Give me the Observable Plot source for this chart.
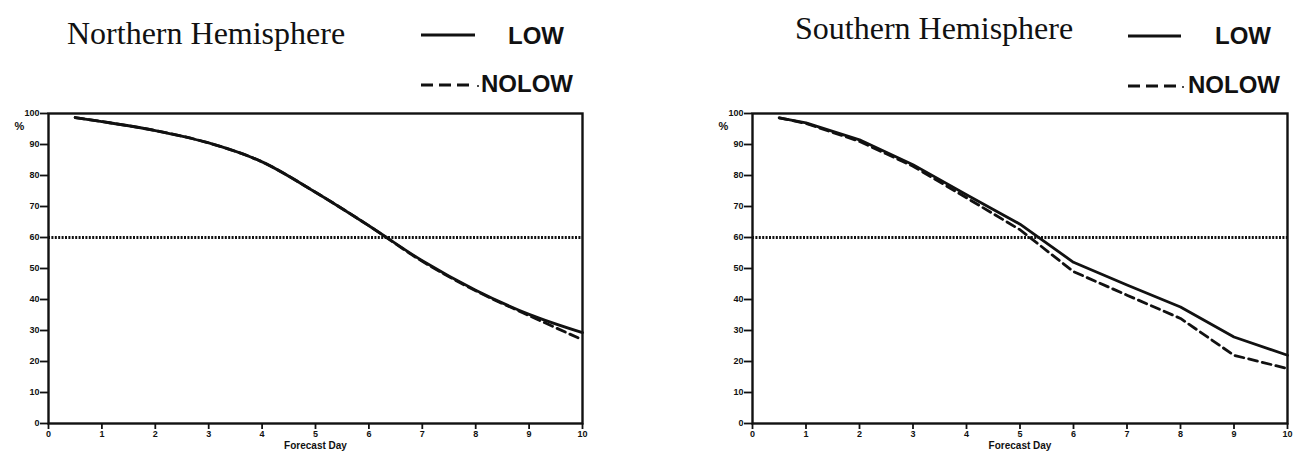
<!DOCTYPE html>
<html>
<head>
<meta charset="utf-8">
<script src="https://cdn.jsdelivr.net/npm/d3@7"></script>
<script src="https://cdn.jsdelivr.net/npm/@observablehq/plot@0.6"></script>
<style>
  body { margin: 0; background: #fff; }
  #page { position: relative; width: 1296px; height: 457px; overflow: hidden; background: #fff; }
  .title { position: absolute; font-family: "Liberation Serif", "Times New Roman", serif; font-size: 32px; color: #111; white-space: nowrap; line-height: 1; }
  .leg { position: absolute; font-family: "Liberation Sans", Arial, sans-serif; font-weight: bold; font-size: 24px; color: #111; white-space: nowrap; line-height: 1; }
  .sample { position: absolute; }
  .chart { position: absolute; top: 100px; }
</style>
</head>
<body>
<div id="page">
  <div class="title" style="left:67px; top:17px;">Northern Hemisphere</div>
  <div class="title" style="left:795px; top:12px;">Southern Hemisphere</div>

  <svg class="sample" style="left:421px; top:30px;" width="56" height="10"><line x1="0" y1="5" x2="54" y2="5" stroke="#111" stroke-width="3"/></svg>
  <div class="leg" style="left:508px; top:24px;">LOW</div>
  <svg class="sample" style="left:421px; top:80px;" width="64" height="10"><line x1="0" y1="5" x2="48" y2="5" stroke="#111" stroke-width="3" stroke-dasharray="12,6"/><circle cx="57" cy="6" r="1" fill="#111"/></svg>
  <div class="leg" style="left:481px; top:72px;">NOLOW</div>

  <svg class="sample" style="left:1128px; top:31px;" width="56" height="10"><line x1="0" y1="5" x2="53" y2="5" stroke="#111" stroke-width="3"/></svg>
  <div class="leg" style="left:1215px; top:24px;">LOW</div>
  <svg class="sample" style="left:1128px; top:81px;" width="64" height="10"><line x1="0" y1="5" x2="48" y2="5" stroke="#111" stroke-width="3" stroke-dasharray="12,6"/><circle cx="55" cy="6" r="1" fill="#111"/></svg>
  <div class="leg" style="left:1188px; top:73px;">NOLOW</div>

  <div id="left" class="chart" style="left:0px;"></div>
  <div id="right" class="chart" style="left:648px;"></div>
</div>
<script>
// ---- data ----
const days = [0.5, 1, 2, 3, 4, 5, 6, 7, 8, 9, 10];
const nhLow   = [98.7, 97.4, 94.5, 90.5, 84.4, 74.6, 63.8, 52.5, 43.0, 35.2, 29.3];
const nhNolow = [98.7, 97.4, 94.5, 90.5, 84.4, 74.6, 63.8, 52.3, 42.8, 34.8, 27.0];
const shLow   = [98.6, 97.0, 91.5, 83.5, 73.8, 64.3, 52.0, 44.7, 37.6, 27.9, 22.0];
const shNolow = [98.6, 96.8, 91.0, 83.0, 72.8, 62.5, 49.0, 41.4, 33.9, 22.0, 17.7];
const threshold = 60;
const xTicks = [0, 1, 2, 3, 4, 5, 6, 7, 8, 9, 10];
const yTicks = [0, 10, 20, 30, 40, 50, 60, 70, 80, 90, 100];
const xLabel = "Forecast Day";
const yLabel = "%";

function rows(vals) { return days.map((d, i) => ({day: d, v: vals[i]})); }

function chart(low, nolow, marginLeft, marginRight, curve) {
  return Plot.plot({
    width: 648,
    height: 357,
    marginLeft, marginRight,
    marginTop: 13,
    marginBottom: 34,
    style: {fontFamily: "'Liberation Sans', Arial, sans-serif", fontSize: "9px", fontWeight: "bold", color: "#111", background: "transparent", overflow: "visible"},
    x: {domain: [0, 10]},
    y: {domain: [0, 100]},
    marks: [
      Plot.axisY({ticks: yTicks, tickSize: 8, tickPadding: 1, strokeWidth: 1.8, label: null, fontSize: 9, fontWeight: "bold"}),
      Plot.axisX({ticks: xTicks, tickSize: 6, tickPadding: 1, strokeWidth: 1.8, label: null, fontSize: 9, fontWeight: "bold"}),
      Plot.ruleY([threshold], {stroke: "#111", strokeWidth: 3, strokeDasharray: "2,1.4"}),
      Plot.line(rows(nolow), {x: "day", y: "v", stroke: "#111", strokeWidth: 2.8, strokeDasharray: "9,5", curve}),
      Plot.line(rows(low), {x: "day", y: "v", stroke: "#111", strokeWidth: 2.8, curve}),
      Plot.frame({stroke: "#111", strokeWidth: 2.4}),
      Plot.text([yLabel], {frameAnchor: "top-left", dx: -34, dy: 9, fontSize: 11, fontWeight: "bold", fill: "#111"}),
      Plot.text([xLabel], {frameAnchor: "bottom", lineAnchor: "bottom", dy: 25, fontSize: 10, fontWeight: "bold", fill: "#111"})
    ]
  });
}

document.getElementById("left").append(chart(nhLow, nhNolow, 48, 66, "monotone-x"));
document.getElementById("right").append(chart(shLow, shNolow, 104, 9, "linear"));
</script>
</body>
</html>
